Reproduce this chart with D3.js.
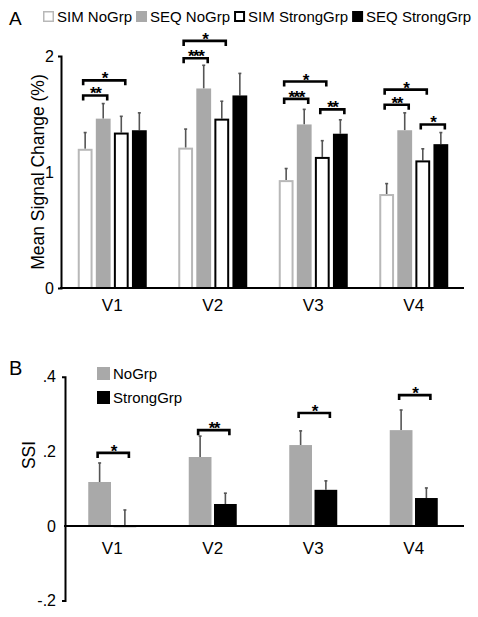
<!DOCTYPE html>
<html><head><meta charset="utf-8">
<script src="https://cdn.jsdelivr.net/npm/d3@7"></script>
<style>body{margin:0;background:#fff;} text{font-family:"Liberation Sans",Arial,sans-serif;}</style>
</head><body><svg id="c" width="478" height="617"></svg>
<script>
// ---------- DATA ----------
const regions = ["V1","V2","V3","V4"];
// Panel A: mean signal change (%)
const seriesA = ["SIM NoGrp","SEQ NoGrp","SIM StrongGrp","SEQ StrongGrp"];
const simNoGrp      = [1.20, 1.21, 0.93, 0.81];
const seqNoGrp      = [1.46, 1.72, 1.41, 1.36];
const simStrongGrp  = [1.34, 1.46, 1.13, 1.10];
const seqStrongGrp  = [1.36, 1.66, 1.33, 1.24];
const simNoGrpErr     = [0.14, 0.16, 0.10, 0.09];
const seqNoGrpErr     = [0.13, 0.20, 0.13, 0.15];
const simStrongGrpErr = [0.14, 0.15, 0.14, 0.10];
const seqStrongGrpErr = [0.15, 0.19, 0.12, 0.10];
const ticksA = [0, 1, 2];
// significance brackets A: [region, fromSeriesIdx, toSeriesIdx, level(%), label]
const sigA = [
  ["V1",0,1,1.66,"**"],["V1",0,2,1.79,"*"],
  ["V2",0,1,1.98,"***"],["V2",0,2,2.13,"*"],
  ["V3",0,1,1.63,"***"],["V3",0,2,1.78,"*"],["V3",2,3,1.54,"**"],
  ["V4",0,1,1.58,"**"],["V4",0,2,1.71,"*"],["V4",2,3,1.41,"*"]
];
// Panel B: SSI
const seriesB = ["NoGrp","StrongGrp"];
const ssiNoGrp     = [0.118, 0.185, 0.217, 0.257];
const ssiStrongGrp = [-0.003, 0.059, 0.097, 0.075];
const ssiNoGrpErr     = [0.051, 0.056, 0.038, 0.054];
const ssiStrongGrpErr = [0.046, 0.029, 0.024, 0.027];
const ticksB = [-0.2, 0, 0.2, 0.4];
const tickLabelsB = ["-.2","0",".2",".4"];
const sigB = [
  ["V1",0,1,0.196,"*"],["V2",0,1,0.257,"**"],["V3",0,1,0.303,"*"],["V4",0,1,0.351,"*"]
];

// ---------- DRAW ----------
const svg = d3.select("#c");
const GRAY = "#a9a9a9", LIGHT = "#b8b8b8", ERR = "#555";

const x = d3.scaleBand().domain(regions).range([62, 464]).padding(0);

function bracket(g, x1, x2, y, label) {
  g.append("path").attr("d", `M${x1},${y+5}V${y}H${x2}V${y+5}`)
    .attr("fill","none").attr("stroke","#000").attr("stroke-width",2.6);
  g.append("text").attr("x",(x1+x2)/2).attr("y",y+4).attr("text-anchor","middle")
    .attr("font-family","DejaVu Sans").attr("font-size",17).attr("font-weight","bold")
    .attr("letter-spacing",-1.5).text(label);
}

// ===== Panel A =====
const yA = d3.scaleLinear().domain([0,2]).range([288,56]);
const xA = d3.scaleBand().domain(seriesA).range([-34.5,34.5]).paddingInner(0.18);
const valsA = [simNoGrp, seqNoGrp, simStrongGrp, seqStrongGrp];
const errsA = [simNoGrpErr, seqNoGrpErr, simStrongGrpErr, seqStrongGrpErr];
const fillsA = ["#fff", GRAY, "#fff", "#000"];
const strokesA = [LIGHT, GRAY, "#000", "#000"];
const gA = svg.append("g");

seriesA.forEach((s, si) => {
  regions.forEach((r, ri) => {
    const cx = x(r) + x.bandwidth()/2 + xA(s);
    const v = valsA[si][ri], e = errsA[si][ri];
    const mid = cx + xA.bandwidth()/2;
    gA.append("line").attr("x1",mid).attr("x2",mid)
      .attr("y1",yA(v)).attr("y2",yA(v+e)).attr("stroke",ERR).attr("stroke-width",1.6);
    gA.append("line").attr("x1",mid-1.5).attr("x2",mid+1.5)
      .attr("y1",yA(v+e)).attr("y2",yA(v+e)).attr("stroke",ERR).attr("stroke-width",1.6);
    const sw = (si===0||si===2) ? 2 : 0;
    gA.append("rect").attr("x",cx+sw/2).attr("y",yA(v)+sw/2)
      .attr("width",xA.bandwidth()-sw).attr("height",yA(0)-yA(v)-sw/2)
      .attr("fill",fillsA[si]).attr("stroke",sw?strokesA[si]:"none").attr("stroke-width",sw);
  });
});
sigA.forEach(([r,a,b,lvl,lab]) => {
  const c = x(r) + x.bandwidth()/2, hb = xA.bandwidth()/2;
  bracket(gA, c + xA(seriesA[a]) + hb - 2, c + xA(seriesA[b]) + hb + 4, yA(lvl), lab);
});
// axes A
const axA = gA.append("g").attr("transform","translate(61,0)")
  .call(d3.axisLeft(yA).tickValues(ticksA).tickFormat(d3.format("d")).tickSizeInner(0).tickSizeOuter(3).tickPadding(7));
axA.select(".domain").attr("stroke-width",2);
axA.selectAll("text").attr("font-size",16).attr("font-family","Liberation Sans, Arial, sans-serif");
gA.append("line").attr("x1",60).attr("x2",464).attr("y1",yA(0)).attr("y2",yA(0)).attr("stroke","#000").attr("stroke-width",2);
regions.forEach(r => gA.append("text").attr("x",x(r)+x.bandwidth()/2).attr("y",311)
  .attr("text-anchor","middle").attr("font-size",17).text(r));
gA.append("text").attr("transform",`translate(44,${(56+288)/2}) rotate(-90)`).attr("text-anchor","middle")
  .attr("font-size",17.5).text("Mean Signal Change (%)");
gA.append("text").attr("x",9).attr("y",25).attr("font-size",19).text("A");
// legend A
let lx = 43;
seriesA.forEach((s, si) => {
  const sw = (si===0) ? 1.5 : (si===2 ? 2 : 0);
  gA.append("rect").attr("x",lx+sw/2).attr("y",11+sw/2).attr("width",11-sw).attr("height",11-sw)
    .attr("fill",fillsA[si]).attr("stroke",sw?strokesA[si]:"none").attr("stroke-width",sw);
  const t = gA.append("text").attr("x",lx+14).attr("y",22).attr("font-size",15).text(s);
  lx += 14 + t.node().getComputedTextLength() + 4;
});

// ===== Panel B =====
const yB = d3.scaleLinear().domain([-0.2,0.4]).range([600.6,376.8]);
const xB = d3.scaleBand().domain(seriesB).range([-24,24]).paddingInner(0.1);
const valsB = [ssiNoGrp, ssiStrongGrp], errsB = [ssiNoGrpErr, ssiStrongGrpErr];
const fillsB = [GRAY, "#000"];
const gB = svg.append("g");
seriesB.forEach((s, si) => {
  regions.forEach((r, ri) => {
    const cx = x(r) + x.bandwidth()/2 + xB(s);
    const v = valsB[si][ri], e = errsB[si][ri];
    const mid = cx + xB.bandwidth()/2;
    gB.append("line").attr("x1",mid).attr("x2",mid).attr("y1",yB(v)).attr("y2",yB(v+e))
      .attr("stroke",ERR).attr("stroke-width",1.6);
    gB.append("line").attr("x1",mid-1.5).attr("x2",mid+1.5).attr("y1",yB(v+e)).attr("y2",yB(v+e))
      .attr("stroke",ERR).attr("stroke-width",1.6);
    gB.append("rect").attr("x",cx).attr("y",Math.min(yB(v),yB(0)))
      .attr("width",xB.bandwidth()).attr("height",Math.max(Math.abs(yB(v)-yB(0)),1))
      .attr("fill",fillsB[si]);
  });
});
sigB.forEach(([r,a,b,lvl,lab]) => {
  const c = x(r) + x.bandwidth()/2, hb = xB.bandwidth()/2;
  bracket(gB, c + xB(seriesB[a]) + hb - 2, c + xB(seriesB[b]) + hb + 4, yB(lvl), lab);
});
const axB = gB.append("g").attr("transform","translate(65,0)")
  .call(d3.axisLeft(yB).tickValues(ticksB).tickFormat((d,i)=>tickLabelsB[i]).tickSizeInner(0).tickSizeOuter(3).tickPadding(9));
axB.select(".domain").attr("stroke-width",2);
axB.selectAll("text").attr("font-size",16).attr("font-family","Liberation Sans, Arial, sans-serif");
gB.append("line").attr("x1",64).attr("x2",464).attr("y1",yB(0)).attr("y2",yB(0)).attr("stroke","#000").attr("stroke-width",2);
regions.forEach(r => gB.append("text").attr("x",x(r)+x.bandwidth()/2).attr("y",554)
  .attr("text-anchor","middle").attr("font-size",17).text(r));
gB.append("text").attr("transform",`translate(35,455) rotate(-90)`).attr("text-anchor","middle")
  .attr("font-size",17.5).text("SSI");
gB.append("text").attr("x",9).attr("y",375).attr("font-size",20).text("B");
seriesB.forEach((s, si) => {
  const ly = 367 + si*24;
  gB.append("rect").attr("x",97).attr("y",ly).attr("width",13).attr("height",13).attr("fill",fillsB[si]);
  gB.append("text").attr("x",113).attr("y",ly+11.5).attr("font-size",15).text(s);
});
</script></body></html>
